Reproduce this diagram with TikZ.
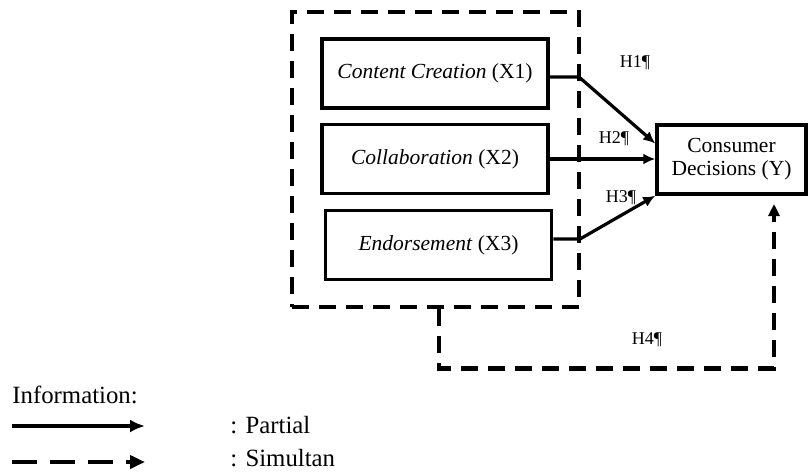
\documentclass[tikz,border=0pt]{standalone}
\usepackage{fontspec}
\setmainfont{Liberation Serif}
\usetikzlibrary{positioning,arrows.meta}

\begin{document}
\begin{tikzpicture}[x=0.5pt,y=-0.5pt,
  varbox/.style={draw,line width=1.75pt,minimum width=113pt,minimum height=34.5pt,inner sep=0pt,font=\fontsize{10.75}{11.5}\selectfont},
  hyp/.style={inner sep=0pt,font=\fontsize{9}{10}\selectfont},
  part/.style={line width=1.6pt,-{Latex[length=6pt,width=5.5pt]}},
  simul/.style={line width=2.25pt,dash pattern=on 8.5pt off 5pt},
  lgd/.style={inner sep=0pt,anchor=base west,font=\fontsize{12.4}{14}\selectfont}]
  \useasboundingbox (0,0) rectangle (808,471);
  % group frame
  \node[simul,draw,minimum width=143.5pt,minimum height=147.5pt] (grp) at (435.5,159.5) {};
  % variables
  \node[varbox] (x1) at (435,73.5) {\textit{Content Creation} (X1)};
  \node[varbox] (x2) at (435,159) {\textit{Collaboration} (X2)};
  \node[varbox] (x3) at (438.5,245) {\textit{Endorsement} (X3)};
  \node[varbox,minimum width=74.5pt,align=center] (y) at (731.5,159.5) {Consumer\\Decisions (Y)};
  % partial paths
  \coordinate (b1) at (579,77);
  \coordinate (b3) at (580,239);
  \draw[part] (x1.east |- b1) -- (b1) -- ([yshift=8pt]y.west);
  \draw[part] (x2.east) -- (x2.east -| y.west);
  \draw[part] (x3.east |- b3) -- (b3) -- (y.south west);
  % simultaneous path
  \coordinate (h4end) at (774,204);
  \draw[simul,-{Triangle[length=6pt,width=5.5pt]}] ([xshift=1.75pt]grp.south) -- ++(0,59) -| (h4end);
  \node[hyp] (h1) at (635,63) {H1¶};
  \node[hyp] (h2) at (614,139) {H2¶};
  \node[hyp] (h3) at (621,198) {H3¶};
  \node[hyp] (h4) at (647,340) {H4¶};
  % legend
  \node[lgd] (info) at (12,403) {Information:};
  \coordinate (pa) at (12,426);
  \coordinate (pb) at (145,426);
  \draw[line width=2pt,-{Latex[length=7.5pt,width=6.5pt]}] (pa) -- (pb);
  \coordinate (sa) at (12,462);
  \coordinate (sb) at (145,462);
  \draw[line width=2.25pt,dash pattern=on 12.5pt off 6.5pt,-{Triangle[length=7.5pt,width=6.5pt]}] (sa) -- (sb);
  \node[lgd] (lp) at (230,433) {: Partial};
  \node[lgd] (ls) at (230,466) {: Simultan};
\end{tikzpicture}
\end{document}
